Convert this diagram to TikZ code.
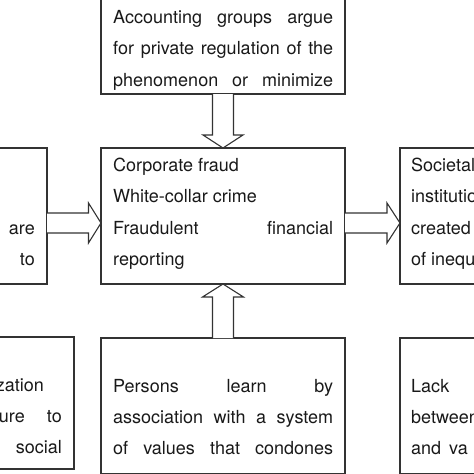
\documentclass[tikz,border=0pt]{standalone}
\usepackage{fontspec}
\setmainfont{TeX Gyre Heros}
\usetikzlibrary{calc}
\begin{document}
\begin{tikzpicture}[x=1pt,y=1pt,
  box/.style={draw=black!80, line width=1.1pt, rectangle, inner sep=0pt, outer sep=0pt},
  barrow/.style={draw=black!80, line width=1.1pt, fill=white, line join=miter},
  txt/.style={inner sep=0pt, anchor=base west, font=\fontsize{18}{31}\selectfont, text=black!90},
  txte/.style={txt, anchor=base east}]
\useasboundingbox (0,0) rectangle (474,-474);
\clip (0,0) rectangle (474,-474);
% boxes
\node[box, minimum width=244pt, minimum height=134pt] (top) at (223,-27) {};
\node[box, minimum width=244pt, minimum height=136pt] (mid) at (223,-216) {};
\node[box, minimum width=120pt, minimum height=136pt] (left) at (-13,-216) {};
\node[box, minimum width=140pt, minimum height=136pt] (right) at (470,-216) {};
\node[box, minimum width=244pt, minimum height=136pt] (bot) at (223,-406) {};
\node[box, minimum width=140pt, minimum height=132pt] (botleft) at (4,-403) {};
\node[box, minimum width=140pt, minimum height=136pt] (botright) at (470,-406) {};
% block arrows
\draw[barrow] ($(top.south)+(-10.5,0)$) -- ($(mid.north)+(-10.5,13)$) -- ($(mid.north)+(-20,13)$)
  -- (mid.north) -- ($(mid.north)+(20,13)$) -- ($(mid.north)+(10.5,13)$) -- ($(top.south)+(10.5,0)$);
\draw[barrow] ($(bot.north)+(-10.5,0)$) -- ($(mid.south)+(-10.5,-13)$) -- ($(mid.south)+(-20.5,-13)$)
  -- (mid.south) -- ($(mid.south)+(20.5,-13)$) -- ($(mid.south)+(10.5,-13)$) -- ($(bot.north)+(10.5,0)$);
\draw[barrow] ($(left.east)+(0,3)$) -- ($(mid.west)+(-12.5,3)$) -- ($(mid.west)+(-12.5,13)$)
  -- ($(mid.west)+(0,-7)$) -- ($(mid.west)+(-12.5,-27)$) -- ($(mid.west)+(-12.5,-17)$) -- ($(left.east)+(0,-17)$);
\draw[barrow] ($(mid.east)+(0,3)$) -- ($(right.west)+(-13,3)$) -- ($(right.west)+(-13,13)$)
  -- ($(right.west)+(0,-7)$) -- ($(right.west)+(-13,-27)$) -- ($(right.west)+(-13,-17)$) -- ($(mid.east)+(0,-17)$);
% top box text
\node[txt] (a1) at (113,-23) {\makebox[220pt][s]{Accounting groups argue}};
\node[txt] (a2) at (113,-54) {\makebox[220pt][s]{for private regulation of the}};
\node[txt] (a3) at (113,-86) {\makebox[220pt][s]{phenomenon or minimize}};
% middle box text
\node[txt] (m1) at (113,-171.5) {Corporate fraud};
\node[txt] (m2) at (113,-202.7) {White-collar crime};
\node[txt] (m3) at (113,-234) {\makebox[220pt][s]{Fraudulent financial}};
\node[txt] (m4) at (113,-265) {reporting};
% bottom box text
\node[txt] (b1) at (113,-392.7) {\makebox[220pt][s]{Persons learn by}};
\node[txt] (b2) at (113,-423.5) {\makebox[220pt][s]{association with a system}};
\node[txt] (b3) at (113,-454.5) {\makebox[220pt][s]{of values that condones}};
% right box text
\node[txt] (r1) at (411,-171.5) {Societal};
\node[txt] (r2) at (411,-202.7) {institutio};
\node[txt] (r3) at (411,-234) {created};
\node[txt] (r4) at (411,-265) {of inequ};
% bottom right text
\node[txt] (br1) at (411,-392.7) {Lack};
\node[txt] (br2) at (411,-423.5) {between};
\node[txt] (br3) at (411,-454.5) {and};
\node[txt] (br4) at (449,-454.5) {va};
% left text
\node[txte] (l1) at (35,-234) {are};
\node[txte] (l2) at (35,-265) {to};
% bottom left text
\node[txte] (bl1) at (44,-391) {zation};
\node[txte] (bl2) at (25,-422) {ure};
\node[txte] (bl3) at (62,-422) {to};
\node[txte] (bl4) at (62,-453) {social};
\end{tikzpicture}
\end{document}
